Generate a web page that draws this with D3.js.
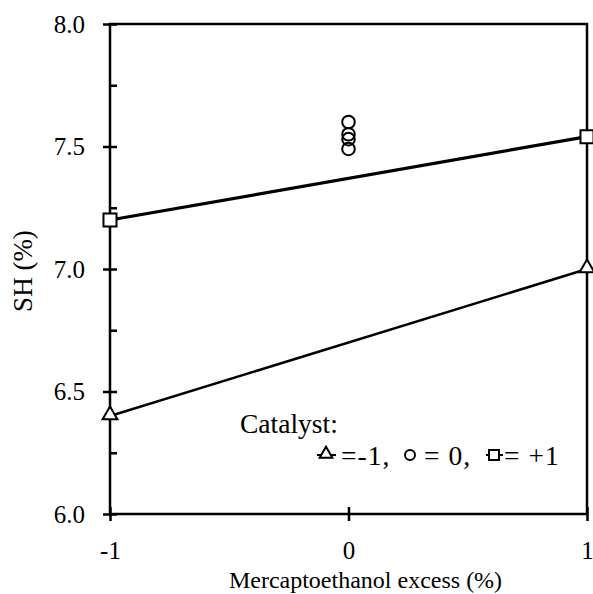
<!DOCTYPE html>
<html>
<head>
<meta charset="utf-8">
<script src="https://cdn.jsdelivr.net/npm/d3@7"></script>
<style>
  body { margin: 0; background: #fff; }
  svg text { font-family: "Liberation Serif", "Times New Roman", Times, serif !important; fill: #000; }
</style>
</head>
<body>
<div id="chart"></div>
<script>
// catalyst = -1 (triangles)
var lowX = [-1, 1];
var lowY = [6.4, 7.0];
// catalyst = +1 (squares)
var highX = [-1, 1];
var highY = [7.2, 7.54];
// catalyst = 0, centre point replicates
var centreX = [0, 0, 0, 0];
var centreY = [7.60, 7.55, 7.53, 7.49];

var xTicks = [-1, 0, 1];
var yTicks = [6.0, 6.5, 7.0, 7.5, 8.0];
var yMinorTicks = [6.25, 6.75, 7.25, 7.75];

var width = 593, height = 594;
var margin = {top: 24, right: 6, bottom: 80, left: 110};
var serif = "'Liberation Serif', 'Times New Roman', Times, serif";

var svg = d3.select("#chart").append("svg")
  .attr("width", width)
  .attr("height", height)
  .attr("font-family", serif);

var x = d3.scaleLinear().domain([-1, 1]).range([margin.left, width - margin.right]);
var y = d3.scaleLinear().domain([6, 8]).range([height - margin.bottom, margin.top]);

// frame
svg.append("rect")
  .attr("x", x(-1)).attr("y", y(8))
  .attr("width", x(1) - x(-1)).attr("height", y(6) - y(8))
  .attr("fill", "none").attr("stroke", "#000").attr("stroke-width", 2.5);

// y axis - major ticks cross the axis, minor ones point inward
var yAxis = svg.append("g")
  .attr("transform", "translate(" + x(-1) + ",0)")
  .call(d3.axisLeft(y).tickValues(yTicks).tickFormat(d3.format(".1f")).tickSize(7).tickPadding(18));
yAxis.attr("font-family", serif);
yAxis.select(".domain").remove();
yAxis.selectAll(".tick line").attr("x1", 7).attr("stroke-width", 2.5);
yAxis.selectAll(".tick text").attr("font-size", 25);

var yMinor = svg.append("g")
  .attr("transform", "translate(" + x(-1) + ",0)")
  .call(d3.axisRight(y).tickValues(yMinorTicks).tickFormat("").tickSize(7));
yMinor.select(".domain").remove();
yMinor.selectAll(".tick line").attr("stroke-width", 2.5);

// x axis
var xAxis = svg.append("g")
  .attr("transform", "translate(0," + y(6) + ")")
  .call(d3.axisBottom(x).tickValues(xTicks).tickFormat(function(d) { return String(d); }).tickSize(7).tickPadding(20));
xAxis.attr("font-family", serif);
xAxis.select(".domain").remove();
xAxis.selectAll(".tick line").attr("y1", -7).attr("stroke-width", 2.5);
xAxis.selectAll(".tick text").attr("font-size", 25);

// axis titles
svg.append("text")
  .attr("x", x(0) + 17).attr("y", 588)
  .attr("text-anchor", "middle")
  .attr("font-size", 24)
  .text("Mercaptoethanol excess (%)");

svg.append("text")
  .attr("transform", "translate(32," + (y(7) + 2) + ") rotate(-90)")
  .attr("text-anchor", "middle")
  .attr("font-size", 27)
  .text("SH (%)");

// lines
var line = d3.line()
  .x(function(d) { return x(d[0]); })
  .y(function(d) { return y(d[1]); });

var lowPts = d3.zip(lowX, lowY);
var highPts = d3.zip(highX, highY);
var centrePts = d3.zip(centreX, centreY);

svg.append("path").datum(lowPts)
  .attr("d", line).attr("fill", "none").attr("stroke", "#000").attr("stroke-width", 2.5);
svg.append("path").datum(highPts)
  .attr("d", line).attr("fill", "none").attr("stroke", "#000").attr("stroke-width", 3.2);

var triangle = d3.symbol().type(d3.symbolTriangle).size(95);
var square = d3.symbol().type(d3.symbolSquare).size(170);

svg.selectAll(".tri").data(lowPts).enter().append("path")
  .attr("class", "tri")
  .attr("d", triangle)
  .attr("transform", function(d) { return "translate(" + x(d[0]) + "," + (y(d[1]) - 1) + ")"; })
  .attr("fill", "#fff").attr("stroke", "#000").attr("stroke-width", 2);

svg.selectAll(".sq").data(highPts).enter().append("path")
  .attr("class", "sq")
  .attr("d", square)
  .attr("transform", function(d) { return "translate(" + x(d[0]) + "," + y(d[1]) + ")"; })
  .attr("fill", "#fff").attr("stroke", "#000").attr("stroke-width", 2);

svg.selectAll(".circ").data(centrePts).enter().append("circle")
  .attr("class", "circ")
  .attr("cx", function(d) { return x(d[0]); })
  .attr("cy", function(d) { return y(d[1]); })
  .attr("r", 6.3)
  .attr("fill", "none").attr("stroke", "#000").attr("stroke-width", 2);

// legend
var legend = svg.append("g");
legend.append("text").attr("x", 240).attr("y", 433).attr("font-size", 27.5).text("Catalyst:");

var ly = 455, lt = 465, ls = 1;
legend.append("line").attr("x1", 317).attr("x2", 336).attr("y1", ly).attr("y2", ly)
  .attr("stroke", "#000").attr("stroke-width", 2);
legend.append("path").attr("d", d3.symbol().type(d3.symbolTriangle).size(70))
  .attr("transform", "translate(326," + (ly - 1) + ")")
  .attr("fill", "#fff").attr("stroke", "#000").attr("stroke-width", 2);
legend.append("text").attr("x", 341).attr("y", lt).attr("font-size", 27.5)
  .attr("letter-spacing", ls).text("=-1,");

legend.append("circle").attr("cx", 410).attr("cy", ly).attr("r", 5)
  .attr("fill", "none").attr("stroke", "#000").attr("stroke-width", 2);
legend.append("text").attr("x", 424).attr("y", lt).attr("font-size", 27.5)
  .attr("letter-spacing", ls).text("= 0,");

legend.append("line").attr("x1", 486).attr("x2", 503).attr("y1", ly).attr("y2", ly)
  .attr("stroke", "#000").attr("stroke-width", 2);
legend.append("path").attr("d", d3.symbol().type(d3.symbolSquare).size(100))
  .attr("transform", "translate(494," + ly + ")")
  .attr("fill", "#fff").attr("stroke", "#000").attr("stroke-width", 2);
legend.append("text").attr("x", 504).attr("y", lt).attr("font-size", 27.5)
  .attr("letter-spacing", ls).text("= +1");
</script>
</body>
</html>
